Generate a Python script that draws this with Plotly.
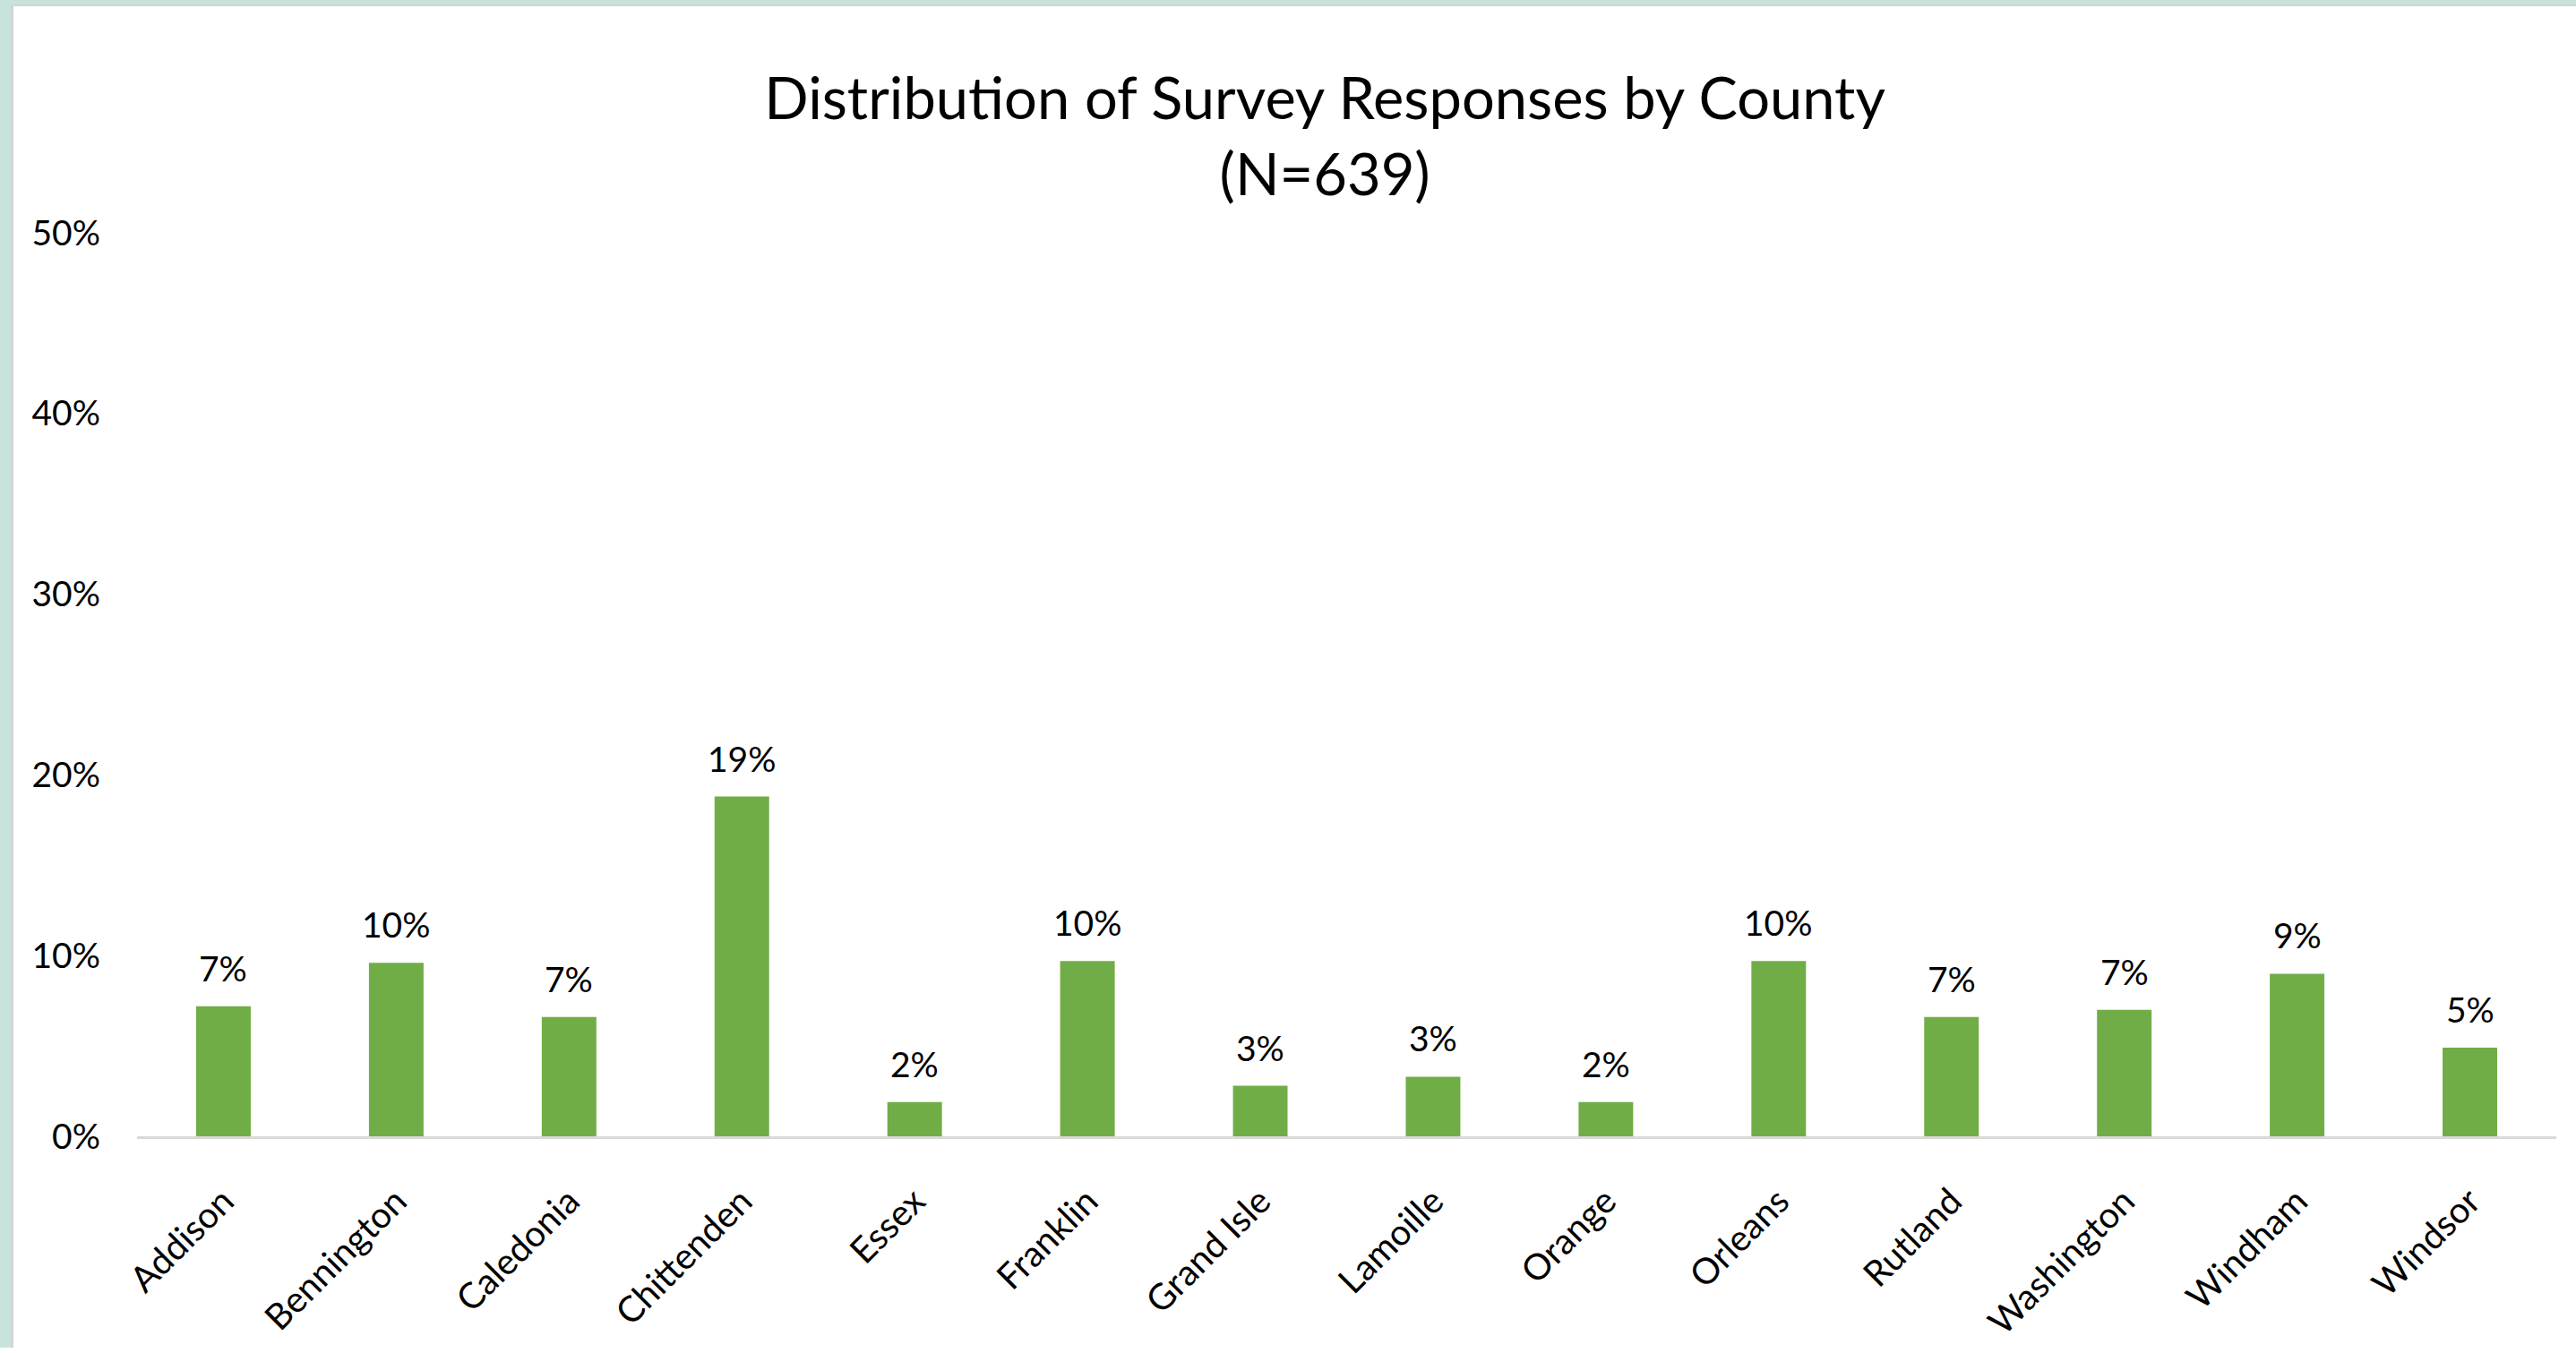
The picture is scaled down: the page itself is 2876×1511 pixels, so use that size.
import plotly.graph_objects as go

counties = ["Addison", "Bennington", "Caledonia", "Chittenden", "Essex", "Franklin",
            "Grand Isle", "Lamoille", "Orange", "Orleans", "Rutland", "Washington",
            "Windham", "Windsor"]
shares = [0.072, 0.096, 0.066, 0.188, 0.019, 0.097, 0.028, 0.033, 0.019, 0.097,
          0.066, 0.070, 0.090, 0.049]
y_ticks = [0, 0.1, 0.2, 0.3, 0.4, 0.5]
title_text = "Distribution of Survey Responses by County<br>(N=639)"

FONT = "Lato, 'Open Sans', sans-serif"
W, H = 2876, 1511
ML, MR, MT, MB = 153, 22, 260, 236

fig = go.Figure()
fig.add_trace(go.Bar(
    x=counties, y=shares, marker=dict(color="#70AD47", line=dict(width=0)),
    width=0.316, hoverinfo="x+y",
))

for c, v in zip(counties, shares):
    fig.add_annotation(x=c, y=v, text=f"{round(v * 100):d}%", showarrow=False,
                       yanchor="bottom", xanchor="center", yshift=18,
                       font=dict(family=FONT, size=39, color="#000000"))

# light teal frame with grey inner edge (left and top)
frame = [
    dict(x0=-ML, x1=-ML + 12, y0=-MB, y1=H - MB, color="#C8E2DE", yanchor=0),
    dict(x0=-ML + 12, x1=-ML + 15, y0=-MB, y1=H - MB, color="#D4D4D4", yanchor=0),
]
for f in frame:
    fig.add_shape(type="rect", xref="paper", yref="paper", xsizemode="pixel",
                  ysizemode="pixel", xanchor=0, yanchor=f["yanchor"],
                  x0=f["x0"], x1=f["x1"], y0=f["y0"], y1=f["y1"],
                  fillcolor=f["color"], line=dict(width=0), layer="above")
fig.add_shape(type="rect", xref="paper", yref="paper", xsizemode="pixel", ysizemode="pixel",
              xanchor=0, yanchor=1, x0=-ML, x1=W - ML, y0=MT - 5, y1=MT,
              fillcolor="#C8E2DE", line=dict(width=0), layer="above")
fig.add_shape(type="rect", xref="paper", yref="paper", xsizemode="pixel", ysizemode="pixel",
              xanchor=0, yanchor=1, x0=-ML + 12, x1=W - ML, y0=MT - 7, y1=MT - 5,
              fillcolor="#D4D4D4", line=dict(width=0), layer="above")

fig.update_layout(
    width=W, height=H,
    margin=dict(l=ML, r=MR, t=MT, b=MB, pad=0),
    paper_bgcolor="#FFFFFF", plot_bgcolor="#FFFFFF",
    showlegend=False,
    bargap=0.684,
    title=dict(text=title_text, xref="container", x=0.5143, xanchor="center",
               yref="container", y=1 - 133 / H, yanchor="middle",
               font=dict(family=FONT, size=65, color="#000000")),
    font=dict(family=FONT, color="#000000"),
    xaxis=dict(
        type="category", showgrid=False, zeroline=False,
        showline=True, linecolor="#D9D9D9", linewidth=3,
        ticks="", tickangle=-45, ticklabelstandoff=30,
        tickfont=dict(family=FONT, size=40, color="#000000"),
    ),
    yaxis=dict(
        range=[0, 0.5], tickvals=y_ticks, tickformat=".0%",
        showgrid=False, zeroline=False, showline=False,
        ticks="", ticklabelstandoff=40,
        tickfont=dict(family=FONT, size=39, color="#000000"),
    ),
)

fig.write_html("out.html")
